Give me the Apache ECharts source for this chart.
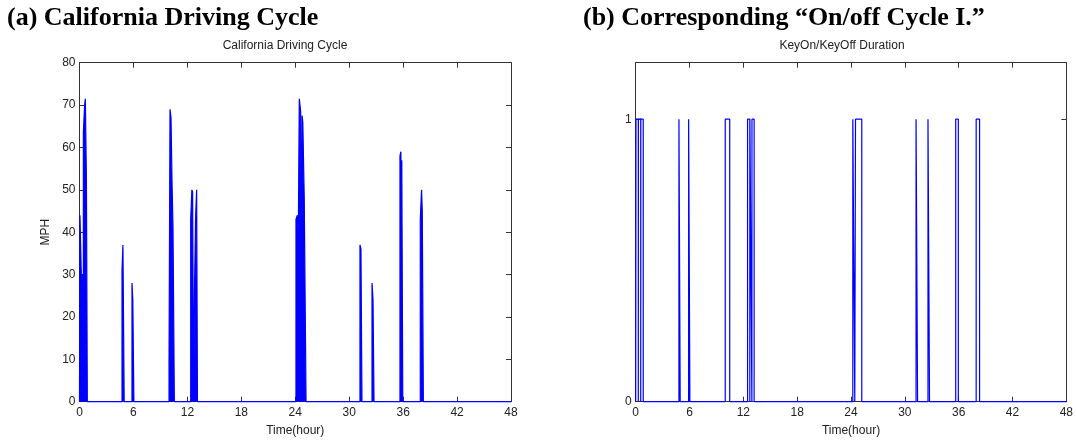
<!DOCTYPE html>
<html>
<head>
<meta charset="utf-8">
<script src="https://cdn.jsdelivr.net/npm/echarts@6/dist/echarts.min.js"></script>
<style>html,body{margin:0;padding:0;background:#fff}#c{width:1076px;height:442px}</style>
</head>
<body>
<div id="c"></div>
<script>
// ---- Data ----
var xTicks = [0, 6, 12, 18, 24, 30, 36, 42, 48];
// California driving cycle: speed (mph) that holds from each time (hour) until the next time
var speedTimes  = [0, 0.05, 0.2, 0.43, 0.57, 0.65, 0.77, 0.87,
                   4.73, 4.83, 4.97,
                   5.84, 5.93, 6.05,
                   9.96, 10.07, 10.18, 10.29, 10.4, 10.55,
                   12.37, 12.5, 12.58, 12.7, 12.8, 12.91, 13.03, 13.12,
                   24.08, 24.23, 24.34, 24.45, 24.6, 24.72, 24.76, 24.84, 25.0, 25.2,
                   31.2, 31.31, 31.42,
                   32.54, 32.65, 32.76,
                   35.65, 35.75, 35.8, 35.85, 35.96,
                   37.91, 38.05, 38.13, 38.25,
                   48];
var speedValues = [0, 44, 30, 63.5, 70, 71.5, 52, 0,
                   31, 37, 0,
                   28, 24, 0,
                   9, 69, 67, 52, 41, 0,
                   43, 50, 49.5, 0, 27, 43, 50, 0,
                   43, 44, 39, 71.5, 68.5, 18, 67.5, 66, 48, 0,
                   37, 36, 0,
                   28, 24, 0,
                   58, 59, 4, 57, 0,
                   43, 50, 45, 0,
                   0];
// KeyOn / KeyOff: trip start and end times (hour)
var tripStarts = [0.03, 0.30, 0.57, 4.82, 5.90, 9.98, 12.47, 12.73, 12.96, 24.20, 24.50, 31.25, 32.58, 35.67, 37.95];
var tripEnds   = [0.29, 0.56, 0.84, 4.96, 6.04, 10.48, 12.72, 12.95, 13.20, 24.42, 25.20, 31.42, 32.75, 35.96, 38.33];

// ---- Build series points ----
var speedPts = [];
for (var i = 0; i < speedTimes.length; i++) {
  if (i > 0) speedPts.push([speedTimes[i], speedValues[i - 1]]);
  speedPts.push([speedTimes[i], speedValues[i]]);
}
var keyPts = [[0, 0]];
for (var j = 0; j < tripStarts.length; j++) {
  keyPts.push([tripStarts[j], 0], [tripStarts[j], 1], [tripEnds[j], 1], [tripEnds[j], 0]);
}
keyPts.push([48, 0]);

var FONT = 'Liberation Sans, Arial, sans-serif';
var AX = '#333';
var LBL = '#222';

function xAx(grid, bottom) {
  return {
    type: 'value', gridIndex: grid, min: 0, max: 48, interval: 6,
    position: bottom ? 'bottom' : 'top',
    axisLine: { show: true, onZero: false, lineStyle: { color: AX, width: 1 } },
    axisTick: { show: true, inside: true, length: 5, lineStyle: { color: AX } },
    axisLabel: bottom ? { show: true, margin: 5, color: LBL, fontSize: 12, fontFamily: FONT } : { show: false },
    splitLine: { show: false },
    name: bottom ? 'Time(hour)' : '', nameLocation: 'middle', nameGap: 23,
    nameTextStyle: { color: LBL, fontSize: 12, fontFamily: FONT }
  };
}

var option = {
  animation: false,
  backgroundColor: '#fff',
  graphic: [
    { type: 'text', x: 7, y: 18, style: { text: '(a) California Driving Cycle', fill: '#000', font: 'bold 26px "Liberation Serif", "Times New Roman", serif', align: 'left', verticalAlign: 'middle', textAlign: 'left', textVerticalAlign: 'middle' } },
    { type: 'text', x: 583, y: 18, style: { text: '(b) Corresponding \u201cOn/off Cycle I.\u201d', fill: '#000', font: 'bold 26px "Liberation Serif", "Times New Roman", serif', align: 'left', verticalAlign: 'middle', textAlign: 'left', textVerticalAlign: 'middle' } },
    { type: 'text', x: 285, y: 46, style: { text: 'California Driving Cycle', fill: LBL, font: '12px "Liberation Sans", Arial, sans-serif', align: 'center', verticalAlign: 'middle', textAlign: 'center', textVerticalAlign: 'middle' } },
    { type: 'text', x: 842, y: 46, style: { text: 'KeyOn/KeyOff Duration', fill: LBL, font: '12px "Liberation Sans", Arial, sans-serif', align: 'center', verticalAlign: 'middle', textAlign: 'center', textVerticalAlign: 'middle' } }
  ],
  grid: [
    { left: 79.5, right: 565, top: 62.7, bottom: 40.3, containLabel: false },
    { left: 635.7, right: 8, top: 62.7, bottom: 40.3, containLabel: false }
  ],
  xAxis: [xAx(0, true), xAx(0, false), xAx(1, true), xAx(1, false)],
  yAxis: [
    {
      type: 'value', gridIndex: 0, min: 0, max: 80, interval: 10, position: 'left',
      axisLine: { show: true, onZero: false, lineStyle: { color: AX } },
      axisTick: { show: true, inside: true, length: 5, lineStyle: { color: AX } },
      axisLabel: { margin: 4, color: LBL, fontSize: 12, fontFamily: FONT },
      splitLine: { show: false },
      name: 'MPH', nameLocation: 'middle', nameGap: 28, nameRotate: 90,
      nameTextStyle: { color: LBL, fontSize: 12, fontFamily: FONT }
    },
    {
      type: 'value', gridIndex: 0, min: 0, max: 80, interval: 10, position: 'right',
      axisLine: { show: true, onZero: false, lineStyle: { color: AX } },
      axisTick: { show: true, inside: true, length: 5, lineStyle: { color: AX } },
      axisLabel: { show: false }, splitLine: { show: false }
    },
    {
      type: 'value', gridIndex: 1, min: 0, max: 1.2, position: 'left',
      axisLine: { show: true, onZero: false, lineStyle: { color: AX } },
      axisTick: { show: true, inside: true, length: 5, lineStyle: { color: AX }, customValues: [0, 1] },
      axisLabel: { margin: 4, color: LBL, fontSize: 12, fontFamily: FONT, customValues: [0, 1] },
      splitLine: { show: false }
    },
    {
      type: 'value', gridIndex: 1, min: 0, max: 1.2, position: 'right',
      axisLine: { show: true, onZero: false, lineStyle: { color: AX } },
      axisTick: { show: true, inside: true, length: 5, lineStyle: { color: AX }, customValues: [0, 1] },
      axisLabel: { show: false }, splitLine: { show: false }
    }
  ],
  series: [
    {
      type: 'line', xAxisIndex: 0, yAxisIndex: 0, data: speedPts, symbol: 'none', clip: false,
      lineStyle: { color: '#0000ff', width: 1.2 },
      areaStyle: { color: '#0000ff', opacity: 1 },
      z: 5
    },
    {
      type: 'line', xAxisIndex: 2, yAxisIndex: 2, data: keyPts, symbol: 'none', clip: false,
      lineStyle: { color: '#0000ff', width: 1.2 },
      z: 5
    }
  ]
};
var chart = echarts.init(document.getElementById('c'), null, { renderer: 'canvas' });
chart.setOption(option);
</script>
</body>
</html>
